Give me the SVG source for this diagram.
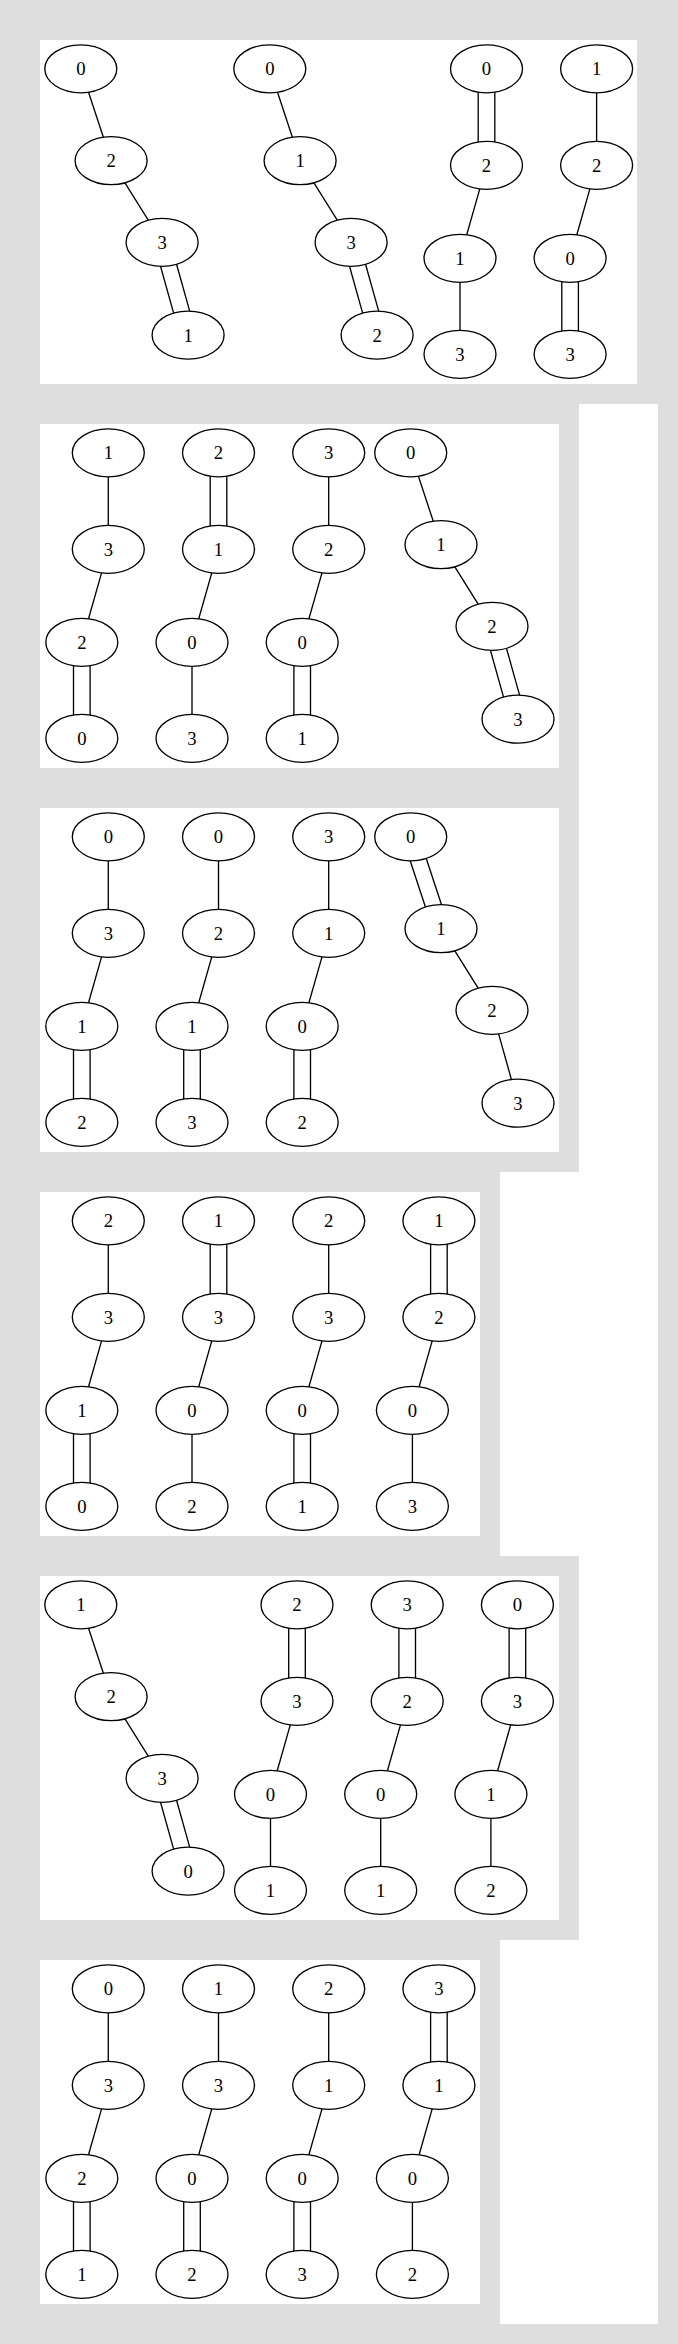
<svg xmlns="http://www.w3.org/2000/svg" width="678" height="2344" viewBox="0 0 678 2344">
<style>
.bg{fill:#dedede}
.w{fill:#ffffff}
.n ellipse{fill:none;stroke:#000;stroke-width:1.33}
.n text{font-family:"Liberation Serif","Times New Roman",serif;font-size:18.67px;text-anchor:middle;fill:#000}
.e line{stroke:#000;stroke-width:1.33;fill:none}
</style>
<g id="background">
<rect class="bg" x="0" y="0" width="678" height="2344"/>
<rect class="w" x="579" y="404" width="79" height="1920"/>
<rect class="w" x="500" y="1172" width="79" height="384"/>
<rect class="w" x="500" y="1940" width="79" height="384"/>
<rect class="w" x="40" y="40" width="597" height="344"/>
<rect class="w" x="40" y="424" width="519" height="344"/>
<rect class="w" x="40" y="808" width="519" height="344"/>
<rect class="w" x="40" y="1192" width="440" height="344"/>
<rect class="w" x="40" y="1576" width="519" height="344"/>
<rect class="w" x="40" y="1960" width="440" height="344"/>
</g>

<g id="connectors" class="e">
<!-- Panel 1 -->
<g transform="translate(80.8,40)"><line x1="7.73" y1="52.24" x2="22.57" y2="97.26"/><line x1="44.15" y1="142.85" x2="67.45" y2="180.15"/><line x1="79.71" y1="226.28" x2="92.84" y2="273.12"/><line x1="95.76" y1="224.28" x2="108.89" y2="271.12"/></g>
<g transform="translate(269.8,40)"><line x1="7.73" y1="52.24" x2="22.57" y2="97.26"/><line x1="44.15" y1="142.85" x2="67.45" y2="180.15"/><line x1="79.71" y1="226.28" x2="92.84" y2="273.12"/><line x1="95.76" y1="224.28" x2="108.89" y2="271.12"/></g>
<g transform="translate(460,40)"><line x1="18.2" y1="52.15" x2="18.2" y2="101.95"/><line x1="34.8" y1="52.15" x2="34.8" y2="101.95"/><line x1="19.78" y1="148.88" x2="6.72" y2="194.72"/><line x1="0" y1="242.3" x2="0" y2="290.3"/></g>
<g transform="translate(570.1,40)"><line x1="26.5" y1="52.8" x2="26.5" y2="101.3"/><line x1="19.78" y1="148.88" x2="6.72" y2="194.72"/><line x1="-8.3" y1="241.65" x2="-8.3" y2="290.95"/><line x1="8.3" y1="241.65" x2="8.3" y2="290.95"/></g>
<!-- Panel 2 -->
<g transform="translate(81.8,424)"><line x1="26.5" y1="52.8" x2="26.5" y2="101.3"/><line x1="19.78" y1="148.88" x2="6.72" y2="194.72"/><line x1="-8.3" y1="241.65" x2="-8.3" y2="290.95"/><line x1="8.3" y1="241.65" x2="8.3" y2="290.95"/></g>
<g transform="translate(192,424)"><line x1="18.2" y1="52.15" x2="18.2" y2="101.95"/><line x1="34.8" y1="52.15" x2="34.8" y2="101.95"/><line x1="19.78" y1="148.88" x2="6.72" y2="194.72"/><line x1="0" y1="242.3" x2="0" y2="290.3"/></g>
<g transform="translate(302.2,424)"><line x1="26.5" y1="52.8" x2="26.5" y2="101.3"/><line x1="19.78" y1="148.88" x2="6.72" y2="194.72"/><line x1="-8.3" y1="241.65" x2="-8.3" y2="290.95"/><line x1="8.3" y1="241.65" x2="8.3" y2="290.95"/></g>
<g transform="translate(410.7,424)"><line x1="7.73" y1="52.24" x2="22.57" y2="97.26"/><line x1="44.15" y1="142.85" x2="67.45" y2="180.15"/><line x1="79.71" y1="226.28" x2="92.84" y2="273.12"/><line x1="95.76" y1="224.28" x2="108.89" y2="271.12"/></g>
<!-- Panel 3 -->
<g transform="translate(81.8,808)"><line x1="26.5" y1="52.8" x2="26.5" y2="101.3"/><line x1="19.78" y1="148.88" x2="6.72" y2="194.72"/><line x1="-8.3" y1="241.65" x2="-8.3" y2="290.95"/><line x1="8.3" y1="241.65" x2="8.3" y2="290.95"/></g>
<g transform="translate(192,808)"><line x1="26.5" y1="52.8" x2="26.5" y2="101.3"/><line x1="19.78" y1="148.88" x2="6.72" y2="194.72"/><line x1="-8.3" y1="241.65" x2="-8.3" y2="290.95"/><line x1="8.3" y1="241.65" x2="8.3" y2="290.95"/></g>
<g transform="translate(302.2,808)"><line x1="26.5" y1="52.8" x2="26.5" y2="101.3"/><line x1="19.78" y1="148.88" x2="6.72" y2="194.72"/><line x1="-8.3" y1="241.65" x2="-8.3" y2="290.95"/><line x1="8.3" y1="241.65" x2="8.3" y2="290.95"/></g>
<g transform="translate(410.7,808)"><line x1="-0.51" y1="52.8" x2="14.74" y2="99.06"/><line x1="15.56" y1="50.44" x2="30.81" y2="96.7"/><line x1="44.15" y1="142.85" x2="67.45" y2="180.15"/><line x1="87.91" y1="225.89" x2="100.69" y2="271.51"/></g>
<!-- Panel 4 -->
<g transform="translate(81.8,1192)"><line x1="26.5" y1="52.8" x2="26.5" y2="101.3"/><line x1="19.78" y1="148.88" x2="6.72" y2="194.72"/><line x1="-8.3" y1="241.65" x2="-8.3" y2="290.95"/><line x1="8.3" y1="241.65" x2="8.3" y2="290.95"/></g>
<g transform="translate(192,1192)"><line x1="18.2" y1="52.15" x2="18.2" y2="101.95"/><line x1="34.8" y1="52.15" x2="34.8" y2="101.95"/><line x1="19.78" y1="148.88" x2="6.72" y2="194.72"/><line x1="0" y1="242.3" x2="0" y2="290.3"/></g>
<g transform="translate(302.2,1192)"><line x1="26.5" y1="52.8" x2="26.5" y2="101.3"/><line x1="19.78" y1="148.88" x2="6.72" y2="194.72"/><line x1="-8.3" y1="241.65" x2="-8.3" y2="290.95"/><line x1="8.3" y1="241.65" x2="8.3" y2="290.95"/></g>
<g transform="translate(412.4,1192)"><line x1="18.2" y1="52.15" x2="18.2" y2="101.95"/><line x1="34.8" y1="52.15" x2="34.8" y2="101.95"/><line x1="19.78" y1="148.88" x2="6.72" y2="194.72"/><line x1="0" y1="242.3" x2="0" y2="290.3"/></g>
<!-- Panel 5 -->
<g transform="translate(80.8,1576)"><line x1="7.73" y1="52.24" x2="22.57" y2="97.26"/><line x1="44.15" y1="142.85" x2="67.45" y2="180.15"/><line x1="79.71" y1="226.28" x2="92.84" y2="273.12"/><line x1="95.76" y1="224.28" x2="108.89" y2="271.12"/></g>
<g transform="translate(270.5,1576)"><line x1="18.2" y1="52.15" x2="18.2" y2="101.95"/><line x1="34.8" y1="52.15" x2="34.8" y2="101.95"/><line x1="19.78" y1="148.88" x2="6.72" y2="194.72"/><line x1="0" y1="242.3" x2="0" y2="290.3"/></g>
<g transform="translate(380.7,1576)"><line x1="18.2" y1="52.15" x2="18.2" y2="101.95"/><line x1="34.8" y1="52.15" x2="34.8" y2="101.95"/><line x1="19.78" y1="148.88" x2="6.72" y2="194.72"/><line x1="0" y1="242.3" x2="0" y2="290.3"/></g>
<g transform="translate(490.9,1576)"><line x1="18.2" y1="52.15" x2="18.2" y2="101.95"/><line x1="34.8" y1="52.15" x2="34.8" y2="101.95"/><line x1="19.78" y1="148.88" x2="6.72" y2="194.72"/><line x1="0" y1="242.3" x2="0" y2="290.3"/></g>
<!-- Panel 6 -->
<g transform="translate(81.8,1960)"><line x1="26.5" y1="52.8" x2="26.5" y2="101.3"/><line x1="19.78" y1="148.88" x2="6.72" y2="194.72"/><line x1="-8.3" y1="241.65" x2="-8.3" y2="290.95"/><line x1="8.3" y1="241.65" x2="8.3" y2="290.95"/></g>
<g transform="translate(192,1960)"><line x1="26.5" y1="52.8" x2="26.5" y2="101.3"/><line x1="19.78" y1="148.88" x2="6.72" y2="194.72"/><line x1="-8.3" y1="241.65" x2="-8.3" y2="290.95"/><line x1="8.3" y1="241.65" x2="8.3" y2="290.95"/></g>
<g transform="translate(302.2,1960)"><line x1="26.5" y1="52.8" x2="26.5" y2="101.3"/><line x1="19.78" y1="148.88" x2="6.72" y2="194.72"/><line x1="-8.3" y1="241.65" x2="-8.3" y2="290.95"/><line x1="8.3" y1="241.65" x2="8.3" y2="290.95"/></g>
<g transform="translate(412.4,1960)"><line x1="18.2" y1="52.15" x2="18.2" y2="101.95"/><line x1="34.8" y1="52.15" x2="34.8" y2="101.95"/><line x1="19.78" y1="148.88" x2="6.72" y2="194.72"/><line x1="0" y1="242.3" x2="0" y2="290.3"/></g>
</g>

<g id="nodes">
<!-- Panel 1 -->
<g transform="translate(80.8,40)">
<g id="p1a-n1" class="n" transform="translate(0,28.8)"><ellipse rx="36" ry="24"/><text y="6.5">0</text></g>
<g id="p1a-n2" class="n" transform="translate(30.3,120.7)"><ellipse rx="36" ry="24"/><text y="6.5">2</text></g>
<g id="p1a-n3" class="n" transform="translate(81.3,202.3)"><ellipse rx="36" ry="24"/><text y="6.5">3</text></g>
<g id="p1a-n4" class="n" transform="translate(107.3,295.1)"><ellipse rx="36" ry="24"/><text y="6.5">1</text></g>
</g>
<g transform="translate(269.8,40)">
<g id="p1b-n1" class="n" transform="translate(0,28.8)"><ellipse rx="36" ry="24"/><text y="6.5">0</text></g>
<g id="p1b-n2" class="n" transform="translate(30.3,120.7)"><ellipse rx="36" ry="24"/><text y="6.5">1</text></g>
<g id="p1b-n3" class="n" transform="translate(81.3,202.3)"><ellipse rx="36" ry="24"/><text y="6.5">3</text></g>
<g id="p1b-n4" class="n" transform="translate(107.3,295.1)"><ellipse rx="36" ry="24"/><text y="6.5">2</text></g>
</g>
<g transform="translate(460,40)">
<g id="p1c-n1" class="n" transform="translate(26.5,28.8)"><ellipse rx="36" ry="24"/><text y="6.5">0</text></g>
<g id="p1c-n2" class="n" transform="translate(26.5,125.3)"><ellipse rx="36" ry="24"/><text y="6.5">2</text></g>
<g id="p1c-n3" class="n" transform="translate(0,218.3)"><ellipse rx="36" ry="24"/><text y="6.5">1</text></g>
<g id="p1c-n4" class="n" transform="translate(0,314.3)"><ellipse rx="36" ry="24"/><text y="6.5">3</text></g>
</g>
<g transform="translate(570.1,40)">
<g id="p1d-n1" class="n" transform="translate(26.5,28.8)"><ellipse rx="36" ry="24"/><text y="6.5">1</text></g>
<g id="p1d-n2" class="n" transform="translate(26.5,125.3)"><ellipse rx="36" ry="24"/><text y="6.5">2</text></g>
<g id="p1d-n3" class="n" transform="translate(0,218.3)"><ellipse rx="36" ry="24"/><text y="6.5">0</text></g>
<g id="p1d-n4" class="n" transform="translate(0,314.3)"><ellipse rx="36" ry="24"/><text y="6.5">3</text></g>
</g>
<!-- Panel 2 -->
<g transform="translate(81.8,424)">
<g id="p2a-n1" class="n" transform="translate(26.5,28.8)"><ellipse rx="36" ry="24"/><text y="6.5">1</text></g>
<g id="p2a-n2" class="n" transform="translate(26.5,125.3)"><ellipse rx="36" ry="24"/><text y="6.5">3</text></g>
<g id="p2a-n3" class="n" transform="translate(0,218.3)"><ellipse rx="36" ry="24"/><text y="6.5">2</text></g>
<g id="p2a-n4" class="n" transform="translate(0,314.3)"><ellipse rx="36" ry="24"/><text y="6.5">0</text></g>
</g>
<g transform="translate(192,424)">
<g id="p2b-n1" class="n" transform="translate(26.5,28.8)"><ellipse rx="36" ry="24"/><text y="6.5">2</text></g>
<g id="p2b-n2" class="n" transform="translate(26.5,125.3)"><ellipse rx="36" ry="24"/><text y="6.5">1</text></g>
<g id="p2b-n3" class="n" transform="translate(0,218.3)"><ellipse rx="36" ry="24"/><text y="6.5">0</text></g>
<g id="p2b-n4" class="n" transform="translate(0,314.3)"><ellipse rx="36" ry="24"/><text y="6.5">3</text></g>
</g>
<g transform="translate(302.2,424)">
<g id="p2c-n1" class="n" transform="translate(26.5,28.8)"><ellipse rx="36" ry="24"/><text y="6.5">3</text></g>
<g id="p2c-n2" class="n" transform="translate(26.5,125.3)"><ellipse rx="36" ry="24"/><text y="6.5">2</text></g>
<g id="p2c-n3" class="n" transform="translate(0,218.3)"><ellipse rx="36" ry="24"/><text y="6.5">0</text></g>
<g id="p2c-n4" class="n" transform="translate(0,314.3)"><ellipse rx="36" ry="24"/><text y="6.5">1</text></g>
</g>
<g transform="translate(410.7,424)">
<g id="p2d-n1" class="n" transform="translate(0,28.8)"><ellipse rx="36" ry="24"/><text y="6.5">0</text></g>
<g id="p2d-n2" class="n" transform="translate(30.3,120.7)"><ellipse rx="36" ry="24"/><text y="6.5">1</text></g>
<g id="p2d-n3" class="n" transform="translate(81.3,202.3)"><ellipse rx="36" ry="24"/><text y="6.5">2</text></g>
<g id="p2d-n4" class="n" transform="translate(107.3,295.1)"><ellipse rx="36" ry="24"/><text y="6.5">3</text></g>
</g>
<!-- Panel 3 -->
<g transform="translate(81.8,808)">
<g id="p3a-n1" class="n" transform="translate(26.5,28.8)"><ellipse rx="36" ry="24"/><text y="6.5">0</text></g>
<g id="p3a-n2" class="n" transform="translate(26.5,125.3)"><ellipse rx="36" ry="24"/><text y="6.5">3</text></g>
<g id="p3a-n3" class="n" transform="translate(0,218.3)"><ellipse rx="36" ry="24"/><text y="6.5">1</text></g>
<g id="p3a-n4" class="n" transform="translate(0,314.3)"><ellipse rx="36" ry="24"/><text y="6.5">2</text></g>
</g>
<g transform="translate(192,808)">
<g id="p3b-n1" class="n" transform="translate(26.5,28.8)"><ellipse rx="36" ry="24"/><text y="6.5">0</text></g>
<g id="p3b-n2" class="n" transform="translate(26.5,125.3)"><ellipse rx="36" ry="24"/><text y="6.5">2</text></g>
<g id="p3b-n3" class="n" transform="translate(0,218.3)"><ellipse rx="36" ry="24"/><text y="6.5">1</text></g>
<g id="p3b-n4" class="n" transform="translate(0,314.3)"><ellipse rx="36" ry="24"/><text y="6.5">3</text></g>
</g>
<g transform="translate(302.2,808)">
<g id="p3c-n1" class="n" transform="translate(26.5,28.8)"><ellipse rx="36" ry="24"/><text y="6.5">3</text></g>
<g id="p3c-n2" class="n" transform="translate(26.5,125.3)"><ellipse rx="36" ry="24"/><text y="6.5">1</text></g>
<g id="p3c-n3" class="n" transform="translate(0,218.3)"><ellipse rx="36" ry="24"/><text y="6.5">0</text></g>
<g id="p3c-n4" class="n" transform="translate(0,314.3)"><ellipse rx="36" ry="24"/><text y="6.5">2</text></g>
</g>
<g transform="translate(410.7,808)">
<g id="p3d-n1" class="n" transform="translate(0,28.8)"><ellipse rx="36" ry="24"/><text y="6.5">0</text></g>
<g id="p3d-n2" class="n" transform="translate(30.3,120.7)"><ellipse rx="36" ry="24"/><text y="6.5">1</text></g>
<g id="p3d-n3" class="n" transform="translate(81.3,202.3)"><ellipse rx="36" ry="24"/><text y="6.5">2</text></g>
<g id="p3d-n4" class="n" transform="translate(107.3,295.1)"><ellipse rx="36" ry="24"/><text y="6.5">3</text></g>
</g>
<!-- Panel 4 -->
<g transform="translate(81.8,1192)">
<g id="p4a-n1" class="n" transform="translate(26.5,28.8)"><ellipse rx="36" ry="24"/><text y="6.5">2</text></g>
<g id="p4a-n2" class="n" transform="translate(26.5,125.3)"><ellipse rx="36" ry="24"/><text y="6.5">3</text></g>
<g id="p4a-n3" class="n" transform="translate(0,218.3)"><ellipse rx="36" ry="24"/><text y="6.5">1</text></g>
<g id="p4a-n4" class="n" transform="translate(0,314.3)"><ellipse rx="36" ry="24"/><text y="6.5">0</text></g>
</g>
<g transform="translate(192,1192)">
<g id="p4b-n1" class="n" transform="translate(26.5,28.8)"><ellipse rx="36" ry="24"/><text y="6.5">1</text></g>
<g id="p4b-n2" class="n" transform="translate(26.5,125.3)"><ellipse rx="36" ry="24"/><text y="6.5">3</text></g>
<g id="p4b-n3" class="n" transform="translate(0,218.3)"><ellipse rx="36" ry="24"/><text y="6.5">0</text></g>
<g id="p4b-n4" class="n" transform="translate(0,314.3)"><ellipse rx="36" ry="24"/><text y="6.5">2</text></g>
</g>
<g transform="translate(302.2,1192)">
<g id="p4c-n1" class="n" transform="translate(26.5,28.8)"><ellipse rx="36" ry="24"/><text y="6.5">2</text></g>
<g id="p4c-n2" class="n" transform="translate(26.5,125.3)"><ellipse rx="36" ry="24"/><text y="6.5">3</text></g>
<g id="p4c-n3" class="n" transform="translate(0,218.3)"><ellipse rx="36" ry="24"/><text y="6.5">0</text></g>
<g id="p4c-n4" class="n" transform="translate(0,314.3)"><ellipse rx="36" ry="24"/><text y="6.5">1</text></g>
</g>
<g transform="translate(412.4,1192)">
<g id="p4d-n1" class="n" transform="translate(26.5,28.8)"><ellipse rx="36" ry="24"/><text y="6.5">1</text></g>
<g id="p4d-n2" class="n" transform="translate(26.5,125.3)"><ellipse rx="36" ry="24"/><text y="6.5">2</text></g>
<g id="p4d-n3" class="n" transform="translate(0,218.3)"><ellipse rx="36" ry="24"/><text y="6.5">0</text></g>
<g id="p4d-n4" class="n" transform="translate(0,314.3)"><ellipse rx="36" ry="24"/><text y="6.5">3</text></g>
</g>
<!-- Panel 5 -->
<g transform="translate(80.8,1576)">
<g id="p5a-n1" class="n" transform="translate(0,28.8)"><ellipse rx="36" ry="24"/><text y="6.5">1</text></g>
<g id="p5a-n2" class="n" transform="translate(30.3,120.7)"><ellipse rx="36" ry="24"/><text y="6.5">2</text></g>
<g id="p5a-n3" class="n" transform="translate(81.3,202.3)"><ellipse rx="36" ry="24"/><text y="6.5">3</text></g>
<g id="p5a-n4" class="n" transform="translate(107.3,295.1)"><ellipse rx="36" ry="24"/><text y="6.5">0</text></g>
</g>
<g transform="translate(270.5,1576)">
<g id="p5b-n1" class="n" transform="translate(26.5,28.8)"><ellipse rx="36" ry="24"/><text y="6.5">2</text></g>
<g id="p5b-n2" class="n" transform="translate(26.5,125.3)"><ellipse rx="36" ry="24"/><text y="6.5">3</text></g>
<g id="p5b-n3" class="n" transform="translate(0,218.3)"><ellipse rx="36" ry="24"/><text y="6.5">0</text></g>
<g id="p5b-n4" class="n" transform="translate(0,314.3)"><ellipse rx="36" ry="24"/><text y="6.5">1</text></g>
</g>
<g transform="translate(380.7,1576)">
<g id="p5c-n1" class="n" transform="translate(26.5,28.8)"><ellipse rx="36" ry="24"/><text y="6.5">3</text></g>
<g id="p5c-n2" class="n" transform="translate(26.5,125.3)"><ellipse rx="36" ry="24"/><text y="6.5">2</text></g>
<g id="p5c-n3" class="n" transform="translate(0,218.3)"><ellipse rx="36" ry="24"/><text y="6.5">0</text></g>
<g id="p5c-n4" class="n" transform="translate(0,314.3)"><ellipse rx="36" ry="24"/><text y="6.5">1</text></g>
</g>
<g transform="translate(490.9,1576)">
<g id="p5d-n1" class="n" transform="translate(26.5,28.8)"><ellipse rx="36" ry="24"/><text y="6.5">0</text></g>
<g id="p5d-n2" class="n" transform="translate(26.5,125.3)"><ellipse rx="36" ry="24"/><text y="6.5">3</text></g>
<g id="p5d-n3" class="n" transform="translate(0,218.3)"><ellipse rx="36" ry="24"/><text y="6.5">1</text></g>
<g id="p5d-n4" class="n" transform="translate(0,314.3)"><ellipse rx="36" ry="24"/><text y="6.5">2</text></g>
</g>
<!-- Panel 6 -->
<g transform="translate(81.8,1960)">
<g id="p6a-n1" class="n" transform="translate(26.5,28.8)"><ellipse rx="36" ry="24"/><text y="6.5">0</text></g>
<g id="p6a-n2" class="n" transform="translate(26.5,125.3)"><ellipse rx="36" ry="24"/><text y="6.5">3</text></g>
<g id="p6a-n3" class="n" transform="translate(0,218.3)"><ellipse rx="36" ry="24"/><text y="6.5">2</text></g>
<g id="p6a-n4" class="n" transform="translate(0,314.3)"><ellipse rx="36" ry="24"/><text y="6.5">1</text></g>
</g>
<g transform="translate(192,1960)">
<g id="p6b-n1" class="n" transform="translate(26.5,28.8)"><ellipse rx="36" ry="24"/><text y="6.5">1</text></g>
<g id="p6b-n2" class="n" transform="translate(26.5,125.3)"><ellipse rx="36" ry="24"/><text y="6.5">3</text></g>
<g id="p6b-n3" class="n" transform="translate(0,218.3)"><ellipse rx="36" ry="24"/><text y="6.5">0</text></g>
<g id="p6b-n4" class="n" transform="translate(0,314.3)"><ellipse rx="36" ry="24"/><text y="6.5">2</text></g>
</g>
<g transform="translate(302.2,1960)">
<g id="p6c-n1" class="n" transform="translate(26.5,28.8)"><ellipse rx="36" ry="24"/><text y="6.5">2</text></g>
<g id="p6c-n2" class="n" transform="translate(26.5,125.3)"><ellipse rx="36" ry="24"/><text y="6.5">1</text></g>
<g id="p6c-n3" class="n" transform="translate(0,218.3)"><ellipse rx="36" ry="24"/><text y="6.5">0</text></g>
<g id="p6c-n4" class="n" transform="translate(0,314.3)"><ellipse rx="36" ry="24"/><text y="6.5">3</text></g>
</g>
<g transform="translate(412.4,1960)">
<g id="p6d-n1" class="n" transform="translate(26.5,28.8)"><ellipse rx="36" ry="24"/><text y="6.5">3</text></g>
<g id="p6d-n2" class="n" transform="translate(26.5,125.3)"><ellipse rx="36" ry="24"/><text y="6.5">1</text></g>
<g id="p6d-n3" class="n" transform="translate(0,218.3)"><ellipse rx="36" ry="24"/><text y="6.5">0</text></g>
<g id="p6d-n4" class="n" transform="translate(0,314.3)"><ellipse rx="36" ry="24"/><text y="6.5">2</text></g>
</g>
</g>
</svg>
